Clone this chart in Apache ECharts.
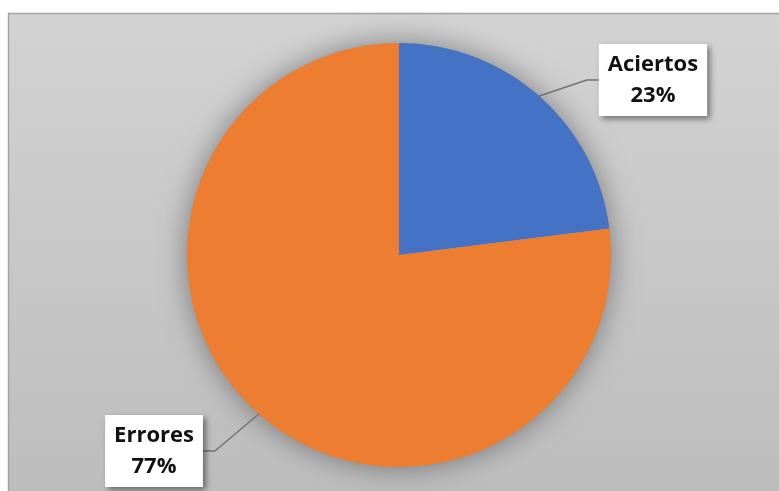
<!DOCTYPE html>
<html>
<head>
<meta charset="utf-8">
<style>
  html, body { margin: 0; padding: 0; background: #ffffff; }
  #chart { width: 779px; height: 491px; }
</style>
<script src="https://cdn.jsdelivr.net/npm/echarts@6/dist/echarts.min.js"></script>
</head>
<body>
<div id="chart"></div>
<script>
// Share of correct answers vs. errors
const categories = ['Aciertos', 'Errores'];
const values = [23, 77];
const colors = ['#4472c4', '#ed7d31'];

const chart = echarts.init(document.getElementById('chart'), null, { renderer: 'canvas' });

const pieCenter = [399, 255];
const pieRadius = 212;

// label box centres for each slice
const labelSpots = [
  { x: 653, y: 80 },
  { x: 154, y: 451 }
];

const option = {
  animation: false,
  graphic: [{
    type: 'rect',
    z: -10,
    shape: { x: 8.5, y: 13.5, width: 800, height: 500 },
    style: {
      fill: {
        type: 'linear', x: 0, y: 0, x2: 0, y2: 1,
        colorStops: [
          { offset: 0, color: '#d3d3d3' },
          { offset: 1, color: '#bcbcbc' }
        ]
      },
      stroke: '#a3a3a3',
      lineWidth: 1.5
    }
  }],
  series: [
    {
      // soft halo beneath the whole pie
      type: 'pie',
      z: 1,
      silent: true,
      center: pieCenter,
      radius: pieRadius,
      data: [{ value: 1, name: '' }],
      itemStyle: {
        color: '#999999',
        shadowBlur: 30,
        shadowColor: 'rgba(0,0,0,0.4)'
      },
      label: { show: false },
      labelLine: { show: false },
      emphasis: { disabled: true },
      tooltip: { show: false }
    },
    {
      type: 'pie',
      z: 2,
      center: pieCenter,
      radius: pieRadius,
      startAngle: 90,
      clockwise: true,
      data: categories.map((name, i) => ({
        name: name,
        value: values[i],
        itemStyle: { color: colors[i] }
      })),
      emphasis: { disabled: true },
      label: {
        show: true,
        position: 'outside',
        formatter: '{b}\n{d}%',
        fontFamily: 'Open Sans',
        fontWeight: 'bold',
        fontSize: 22,
        lineHeight: 31,
        color: '#111111',
        backgroundColor: '#ffffff',
        padding: [5, 9, 5, 9],
        shadowBlur: 6,
        shadowOffsetX: 3,
        shadowOffsetY: 3,
        shadowColor: 'rgba(0,0,0,0.45)'
      },
      labelLine: {
        show: true,
        length: 40,
        length2: 12,
        lineStyle: { color: '#737373', width: 1.5 }
      },
      labelLayout: function (params) {
        const s = labelSpots[params.dataIndex];
        return { x: s.x, y: s.y, align: 'center', verticalAlign: 'middle' };
      }
    }
  ]
};

chart.setOption(option);
</script>
</body>
</html>
